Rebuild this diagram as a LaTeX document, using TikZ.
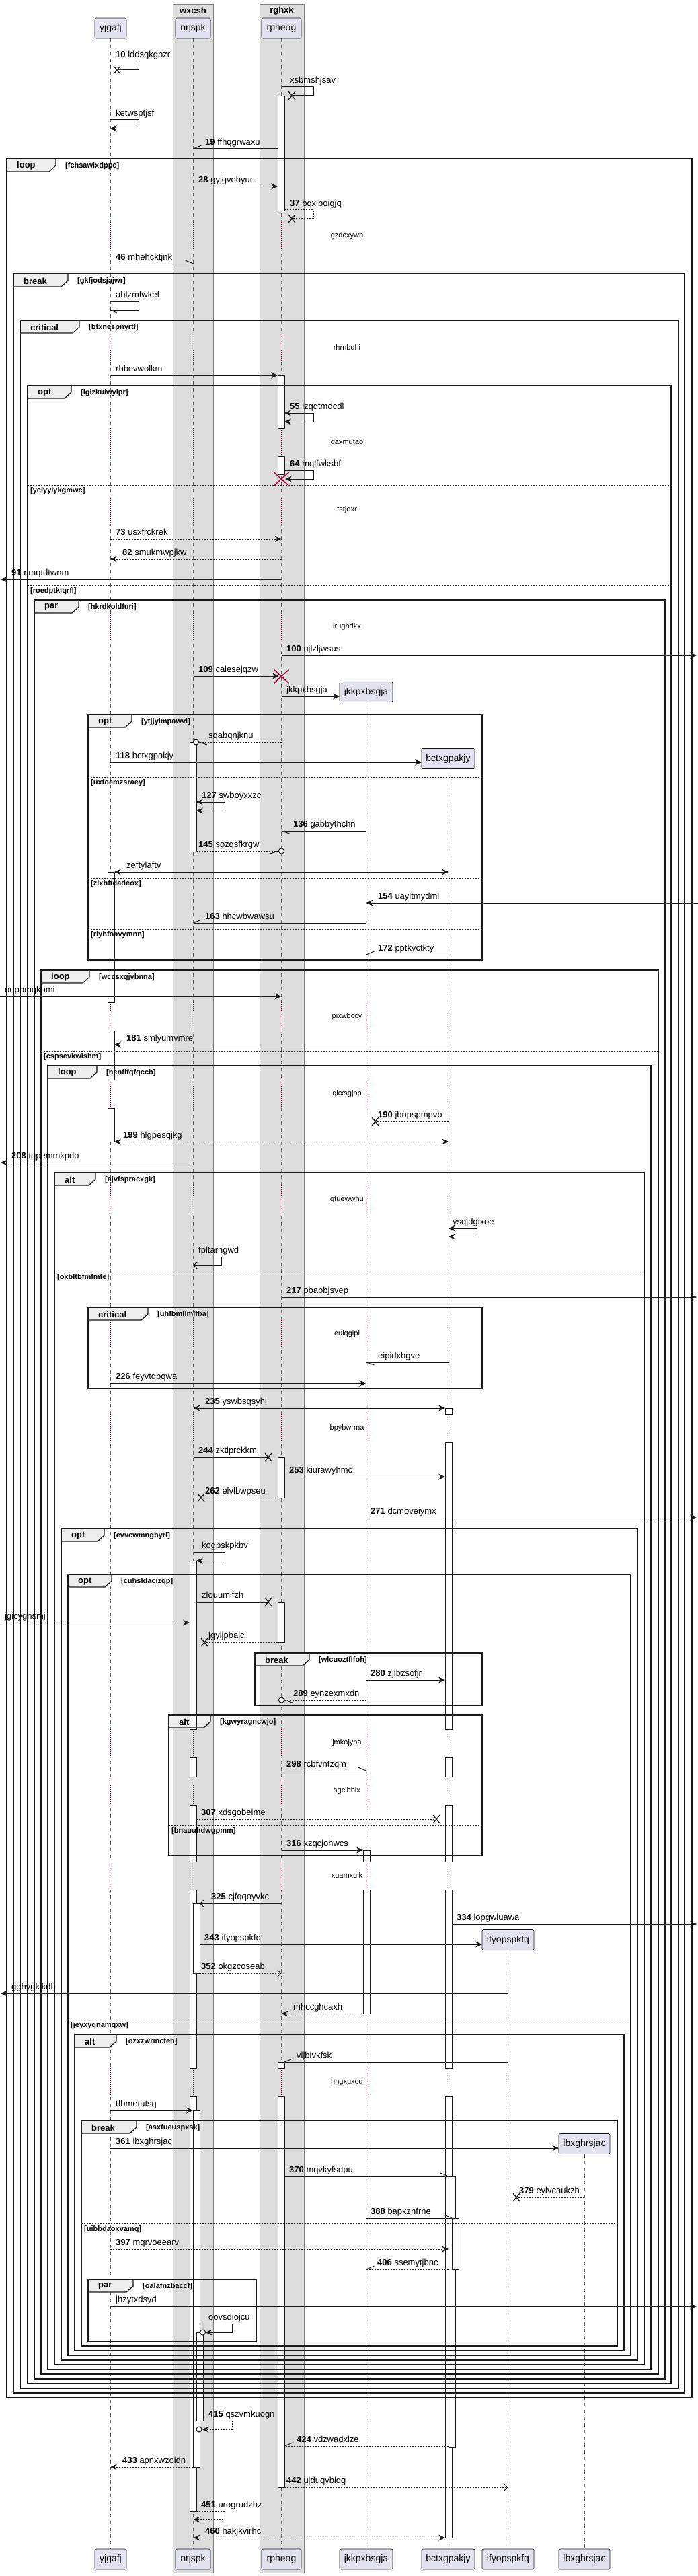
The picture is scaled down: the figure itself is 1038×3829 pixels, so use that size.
\documentclass[tikz,border=0pt]{standalone}
\usepackage{fontspec}
\setmainfont{Liberation Sans}
\usetikzlibrary{arrows.meta}
\definecolor{partfill}{HTML}{E2E2F0}
\definecolor{boxfill}{HTML}{DDDDDD}
\definecolor{tabfill}{HTML}{EEEEEE}
\definecolor{ink}{HTML}{181818}
\definecolor{delred}{HTML}{A80036}
\tikzset{
 ml/.style={draw=ink, line width=1pt},
 dl/.style={dash pattern=on 2pt off 2pt},
 fa/.style={-{Stealth[length=10pt,width=9pt,inset=3.5pt]}},
 fb/.style={{Stealth[length=10pt,width=9pt,inset=3.5pt]}-{Stealth[length=10pt,width=9pt,inset=3.5pt]}},
 oa/.style={-{Straight Barb[length=5pt,width=10pt]}},
 lbl/.style={anchor=base west, inner sep=0pt, font=\fontsize{13}{15}\selectfont, yshift=5.5pt},
 part/.style={draw=ink, fill=partfill, rounded corners=2pt, minimum height=30pt, inner sep=0pt, font=\fontsize{14}{16}\selectfont, line width=0.7pt},
 actb/.style={draw=ink, fill=white, line width=0.8pt},
 lifeline/.style={draw=ink!70, line width=0.8pt, dash pattern=on 5pt off 5pt},
 frameline/.style={draw=ink, line width=1.5pt},
 tabshape/.style={draw=ink, line width=1.2pt},
 tabfillst/.style={fill=tabfill},
 kw/.style={font=\bfseries\fontsize{13}{15}\selectfont, inner sep=0pt, anchor=west},
 cond/.style={font=\bfseries\fontsize{11}{13}\selectfont, inner sep=0pt, anchor=west},
 delaytxt/.style={font=\fontsize{11}{13}\selectfont, inner sep=0pt},
 elseline/.style={draw=ink, line width=1pt, dash pattern=on 2pt off 2pt},
 boxbg/.style={fill=boxfill, draw=ink!55, line width=0.6pt},
 boxtitle/.style={font=\bfseries\fontsize{13}{15}\selectfont, inner sep=0pt},
}
\newcounter{nn}
\newcommand{\smsg}[6][]{\draw[ml,#1] (#3,#2) -- (#4,#2); \stepcounter{nn}\node[lbl] (n\arabic{nn}) at (#5,#2) {#6};}
\newcommand{\selfm}[8][]{\draw[ml,#1] (#4,#2) -- (#5,#2) -- (#5,#3) -- (#6,#3); \stepcounter{nn}\node[lbl] (n\arabic{nn}) at (#7,#2) {#8};}
\newcommand{\xmk}[2]{\draw[ink, line width=1.3pt] (#1-5,#2-6) -- (#1+5,#2+6) (#1-5,#2+6) -- (#1+5,#2-6);}
\newcommand{\rxmk}[2]{\draw[delred, line width=1.5pt] (#1-11,#2-10) -- (#1+11,#2+10) (#1-11,#2+10) -- (#1+11,#2-10);}
\newcommand{\hbarb}[4]{\draw[ml] (#1,#2) -- ++(#3,#4);}
\newcommand{\circm}[2]{\draw[ml, fill=white] (#1,#2) circle[radius=4pt];}
% pass 1: tab fills only
\newcommand{\frmfill}[7]{\fill[tabfillst] (#1,#2) -- (#6,#2) -- (#6,#2+10) -- (#6-10,#2+19) -- (#1,#2+19) -- cycle;}
% pass 2: outlines and texts
\newcommand{\frmdraw}[7]{%
 \draw[frameline] (#1,#2) rectangle (#3,#4);
 \draw[tabshape] (#1,#2) -- (#6,#2) -- (#6,#2+10) -- (#6-10,#2+19) -- (#1,#2+19) -- cycle;
 \stepcounter{nn}\node[kw] (n\arabic{nn}) at (#1+15,#2+10.5) {#5};
 \stepcounter{nn}\node[cond] (n\arabic{nn}) at (#6+14,#2+11) {[#7]};}
\newcommand{\elsfill}[4]{}
\newcommand{\elsdraw}[4]{\draw[elseline] (#1,#3) -- (#2,#3); \stepcounter{nn}\node[cond] (n\arabic{nn}) at (#1+4,#3+9) {[#4]};}
\newcommand{\allframes}{%
\frm{10}{236}{1029}{3564}{loop}{83}{fchsawixdppc}
\frm{20}{407}{1018}{3557}{break}{101}{gkfjodsjajwr}
\frm{30}{476}{1009}{3550}{critical}{118}{bfxnespnyrtl}
\frm{41}{573}{998}{3543}{opt}{106}{iglzkuiwyipr}
\els{41}{998}{721}{yciyylykgmwc}
\els{41}{998}{870}{roedptkiqrfl}
\frm{51}{892}{989}{3536}{par}{117}{hkrdkoldfuri}
\frm{131}{1062}{717}{1427}{opt}{196}{ytjjyimpawvi}
\els{131}{717}{1155}{uxfoemzsraey}
\els{131}{717}{1305}{zlxhftdadeox}
\els{131}{717}{1381}{rlyhfoavymnn}
\frm{61}{1442}{979}{3529}{loop}{133}{wccsxqjvbnna}
\els{61}{979}{1562}{cspsevkwlshm}
\frm{71}{1584}{968}{3522}{loop}{144}{henfifqfqccb}
\frm{81}{1743}{958}{3515}{alt}{142}{ajvfspracxgk}
\els{81}{958}{1890}{oxbltbfmfmfe}
\frm{131}{1943}{717}{2064}{critical}{220}{uhfbmllmlfba}
\frm{91}{2272}{948}{3508}{opt}{155}{evvcwmngbyri}
\frm{101}{2340}{938}{3501}{opt}{166}{cuhsldacizqp}
\els{101}{938}{3002}{jeyxyqnamqxw}
\frm{379}{2457}{717}{2535}{break}{460}{wlcuoztflfoh}
\frm{251}{2549}{717}{2758}{alt}{313}{kgwyragncwjo}
\els{251}{717}{2713}{bnauuhdwgpmm}
\frm{111}{3024}{928}{3494}{alt}{173}{ozxzwrincteh}
\frm{121}{3152}{918}{3487}{break}{203}{asxfueuspxsk}
\els{121}{918}{3305}{uibbdaoxvamq}
\frm{131}{3388}{381}{3480}{par}{198}{oalafnzbaccf}}
\newcommand{\dseg}[3]{\draw[#3, line width=3pt] (#1,#2-21) -- (#1,#2+21);
 \draw[delred, line width=0.8pt, dash pattern=on 1pt off 2pt] (#1,#2-21) -- (#1,#2+21);}
\newcommand{\actbar}[3]{\draw[actb] (#1,#2) rectangle (#1+10,#3);}
\begin{document}
\begin{tikzpicture}[x=1pt,y=-1pt]
\useasboundingbox (0,0) rectangle (1038,3829);
% group boxes
\draw[boxbg] (257,6) rectangle (317,3824);
\node[boxtitle] (bx1) at (287,16) {wxcsh};
\draw[boxbg] (386,6) rectangle (452,3824);
\node[boxtitle] (bx2) at (419,16) {rghxk};
% lifelines
\draw[lifeline] (164,57) -- (164,3789);
\draw[lifeline] (287.5,57) -- (287.5,3789);
\draw[lifeline] (418.5,57) -- (418.5,3789);
\draw[lifeline] (544.5,1044) -- (544.5,3789);
\draw[lifeline] (667,1143) -- (667,3789);
\draw[lifeline] (755.5,2899) -- (755.5,3789);
\draw[lifeline] (869,3202) -- (869,3789);
% delays
\foreach \d in {351,517,657,758,932}{\dseg{164}{\d}{white}\dseg{287.5}{\d}{boxfill}\dseg{418.5}{\d}{boxfill}}
\foreach \d in {1511,1626,1783,1983,2123,2591,2662,2788,3095}{\dseg{164}{\d}{white}\dseg{287.5}{\d}{boxfill}\dseg{418.5}{\d}{boxfill}\dseg{544.5}{\d}{white}\dseg{667}{\d}{white}}
\dseg{755.5}{3095}{white}
\foreach \d/\t [count=\i] in {351/gzdcxywn,517/rhrnbdhi,657/daxmutao,758/tstjoxr,932/irughdkx,1511/pixwbccy,1626/qkxsgjpp,1783/qtuewwhu,1983/euiqgipl,2123/bpybwrma,2591/jmkojypa,2662/sgclbbix,2788/xuamxulk,3095/hngxuxod}
 {\node[delaytxt] (dl\i) at (516,\d) {\t};}
% frame tab fills
\let\frm\frmfill \let\els\elsfill
\allframes
% activation bars
\actbar{413}{142}{313}
\actbar{413}{558}{636}\actbar{413}{678}{705}
\actbar{413}{2166}{2226}
\actbar{413}{2381}{2441}
\actbar{413}{3065}{3074}\actbar{413}{3116}{3697}
\actbar{160}{1296}{1490}\actbar{160}{1532}{1605}\actbar{160}{1647}{1697}
\actbar{282}{1103}{1266}
\actbar{282}{2320}{2570}\actbar{282}{2612}{2641}\actbar{282}{2683}{2767}\actbar{282}{2809}{3074}\actbar{282}{3116}{3733}
\actbar{287}{2829}{2933}
\actbar{287}{3137}{3667}
\actbar{292}{3467}{3598}
\actbar{540}{2750}{2767}\actbar{540}{2809}{2993}
\actbar{662}{2093}{2102}\actbar{662}{2144}{2570}\actbar{662}{2612}{2641}\actbar{662}{2683}{2767}\actbar{662}{2809}{3074}\actbar{662}{3116}{3772}
\actbar{667}{3235}{3637}
\actbar{672}{3297}{3373}
% frame outlines and texts
\let\frm\frmdraw \let\els\elsdraw
\allframes
% messages
\selfm{91}{104}{164}{206}{174}{172}{\textbf{10} iddsqkgpzr}\xmk{174}{104}
\selfm{129}{142}{418.5}{466}{434}{431}{xsbmshjsav}\xmk{434}{142}
\selfm[fa]{178}{191}{164}{206}{164}{172}{ketwsptjsf}
\smsg{221}{413}{287.5}{305}{\textbf{19} ffhqgrwaxu}\hbarb{287.5}{221}{12}{-5}
\smsg[fa]{277}{287.5}{413}{295}{\textbf{28} gyjgvebyun}
\selfm[dl]{312}{325}{423}{466}{434}{431}{\textbf{37} bqxlboigjq}\xmk{434}{325}
\smsg{392}{164}{287.5}{172}{\textbf{46} mhehcktjnk}\hbarb{287.5}{392}{-12}{-5}
\selfm{448}{461}{164}{206}{164}{172}{ablzmfwkef}\hbarb{164}{461}{10}{4}
\smsg[fa]{558}{164}{413}{172}{rbbevwolkm}
\selfm[fb]{614}{627}{423}{466}{423}{431}{\textbf{55} izqdtmdcdl}
\selfm[fa]{699}{712}{423}{466}{424}{431}{\textbf{64} mqlfwksbf}
\rxmk{418.5}{712}
\smsg[fa,dl]{801}{164}{418.5}{172}{\textbf{73} usxfrckrek}
\smsg[fa,dl]{831}{418.5}{164}{182}{\textbf{82} smukmwpjkw}
\smsg[fa]{861}{418.5}{1}{17}{\textbf{91} nmqtdtwnm}
\smsg[fa]{974}{418.5}{1036}{426}{\textbf{100} ujlzljwsus}
\smsg[fa]{1005}{287.5}{415}{295}{\textbf{109} calesejqzw}
\rxmk{418.5}{1005.5}
\smsg[fa]{1035}{418.5}{505}{426}{jkkpxbsgja}
\smsg[dl]{1103}{418.5}{295.5}{310}{sqabqnjknu}\circm{291.5}{1103}\hbarb{296}{1103}{12}{4}
\smsg[fa]{1133}{164}{627}{172}{\textbf{118} bctxgpakjy}
\selfm[fb]{1192}{1205}{292}{334}{292}{300}{\textbf{127} swboyxxzc}
\smsg{1235}{544.5}{418.5}{436}{\textbf{136} gabbythchn}\hbarb{418.5}{1235}{12}{4}
\smsg[dl]{1265}{292}{414.5}{295}{\textbf{145} sozqsfkrgw}\circm{418.5}{1265}\hbarb{414}{1265}{-12}{4}
\smsg[fb]{1296}{170}{667}{188}{zeftylaftv}
\smsg[fa]{1342}{1038}{544.5}{562}{\textbf{154} uayltmydml}
\smsg{1372}{544.5}{287.5}{305}{\textbf{163} hhcwbwawsu}\hbarb{287.5}{1372}{12}{-5}
\smsg{1419}{667}{544.5}{562}{\textbf{172} pptkvctkty}\hbarb{544.5}{1419}{12}{-5}
\smsg[fa]{1481}{0}{418.5}{7}{oupbmqkomi}
\smsg[fa]{1553}{667}{170}{188}{\textbf{181} smlyumvmre}
\smsg[dl]{1667}{667}{558}{562}{\textbf{190} jbnpspmpvb}\xmk{558}{1667}
\smsg[fb,dl]{1697}{170}{667}{183}{\textbf{199} hlgpesqjkg}
\smsg[fa]{1728}{287.5}{1}{17}{\textbf{208} tqpemmkpdo}
\selfm[fb]{1826}{1838}{667}{709}{667}{673}{ysqjdgixoe}
\selfm[oa]{1868}{1881}{287.5}{329}{287.5}{295}{fpltarngwd}
\smsg[fa]{1928}{418.5}{1036}{426}{\textbf{217} pbapbjsvep}
\smsg{2025}{667}{544.5}{562}{eipidxbgve}\hbarb{544.5}{2025}{12}{4}
\smsg[fa]{2056}{164}{544.5}{172}{\textbf{226} feyvtqbqwa}
\smsg[fb]{2093}{287.5}{662}{305}{\textbf{235} yswbsqsyhi}
\smsg{2166}{287.5}{399}{295}{\textbf{244} zktiprckkm}\xmk{399}{2166}
\smsg[fa]{2195}{423}{662}{430}{\textbf{253} kiurawyhmc}
\smsg[dl]{2226}{413}{299}{305}{\textbf{262} elvlbwpseu}\xmk{299}{2226}
\smsg[fa]{2256}{544.5}{1036}{551}{\textbf{271} dcmoveiymx}
\selfm[fa]{2307}{2320}{287.5}{334}{292}{300}{kogpskpkbv}
\smsg{2381}{292}{399}{300}{zlouumlfzh}\xmk{399}{2381}
\smsg[fa]{2412}{0}{282}{7}{jgicygnsmj}
\smsg[dl]{2441}{413}{304}{310}{jgyijpbajc}\xmk{304}{2441}
\smsg[fa]{2497}{544.5}{662}{551}{\textbf{280} zjlbzsofjr}
\smsg[dl]{2527}{544.5}{422.5}{436}{\textbf{289} eynzexmxdn}\circm{418.5}{2527}\hbarb{423}{2527}{12}{4}
\smsg{2632}{418.5}{544.5}{426}{\textbf{298} rcbfvntzqm}\hbarb{544.5}{2632}{-12}{-5}
\smsg[dl]{2704}{292}{649}{299}{\textbf{307} xdsgobeime}\xmk{649}{2704}
\smsg[fa]{2750}{418.5}{540}{426}{\textbf{316} xzqcjohwcs}
\smsg[oa]{2829}{418.5}{297}{314}{\textbf{325} cjfqqoyvkc}
\smsg[fa]{2860}{672}{1036}{679}{\textbf{334} lopgwiuawa}
\smsg[fa]{2890}{297}{717}{304}{\textbf{343} ifyopspkfq}
\smsg[oa,dl]{2933}{297}{418.5}{299}{\textbf{352} okgzcoseab}
\smsg[fa]{2963}{755.5}{1}{17}{gghygkjkdb}
\smsg[fa,dl]{2993}{540}{418.5}{436}{mhccghcaxh}
\smsg{3065}{755.5}{423}{441}{vljbivkfsk}\hbarb{423}{3065}{12}{-5}
\smsg[fa]{3137}{164}{287}{172}{tfbmetutsq}
\smsg[fa]{3193}{164}{831}{172}{\textbf{361} lbxghrsjac}
\smsg{3235}{423}{667}{430}{\textbf{370} mqvkyfsdpu}\hbarb{667}{3235}{-12}{-5}
\smsg[dl]{3266}{869}{768}{772}{\textbf{379} eylvcaukzb}\xmk{768}{3266}
\smsg{3297}{544.5}{672}{551}{\textbf{388} bapkznfrne}\hbarb{672}{3297}{-12}{-5}
\smsg[fa,dl]{3343}{164}{667}{172}{\textbf{397} mqrvoeearv}
\smsg[dl]{3373}{667}{544.5}{561}{\textbf{406} ssemytjbnc}\hbarb{544.5}{3373}{12}{-5}
\smsg[fa]{3428}{164}{1036}{172}{jhzytxdsyd}
\selfm[fa]{3454}{3467}{297}{345}{305.5}{310}{oovsdiojcu}\circm{301.5}{3467}
\selfm[fa,dl]{3598}{3611}{301}{345}{300.5}{310}{\textbf{415} qszvmkuogn}\circm{296}{3611}
\smsg[dl]{3636}{667}{423}{441}{\textbf{424} vdzwadxlze}\hbarb{423}{3636}{12}{-5}
\smsg[fa,dl]{3667}{287}{164}{182}{\textbf{433} apnxwzoidn}
\smsg[oa,dl]{3697}{423}{755.5}{426}{\textbf{442} ujduqvbiqg}
\selfm[fa,dl]{3733}{3745}{292}{334}{287.5}{299}{\textbf{451} urogrudzhz}
\smsg[fb,dl]{3772}{287.5}{662}{305}{\textbf{460} hakjkvirhc}
% participants
\node[part, minimum width=47pt] (yjgafjT) at (164.5,42) {yjgafj};
\node[part, minimum width=52pt] (nrjspkT) at (287,42) {nrjspk};
\node[part, minimum width=59pt] (rpheogT) at (418.5,42) {rpheog};
\node[part, minimum width=47pt] (yjgafjB) at (164.5,3804) {yjgafj};
\node[part, minimum width=52pt] (nrjspkB) at (287,3804) {nrjspk};
\node[part, minimum width=59pt] (rpheogB) at (418.5,3804) {rpheog};
\node[part, minimum width=79pt] (jkkT) at (544.5,1028.5) {jkkpxbsgja};
\node[part, minimum width=79pt] (jkkB) at (544.5,3804) {jkkpxbsgja};
\node[part, minimum width=79pt] (bctT) at (666.5,1127.5) {bctxgpakjy};
\node[part, minimum width=79pt] (bctB) at (666.5,3804) {bctxgpakjy};
\node[part, minimum width=77pt] (ifyT) at (755.5,2883.5) {ifyopspkfq};
\node[part, minimum width=77pt] (ifyB) at (755.5,3804) {ifyopspkfq};
\node[part, minimum width=76pt] (lbxT) at (869,3186.5) {lbxghrsjac};
\node[part, minimum width=76pt] (lbxB) at (869,3804) {lbxghrsjac};
\end{tikzpicture}
\end{document}
